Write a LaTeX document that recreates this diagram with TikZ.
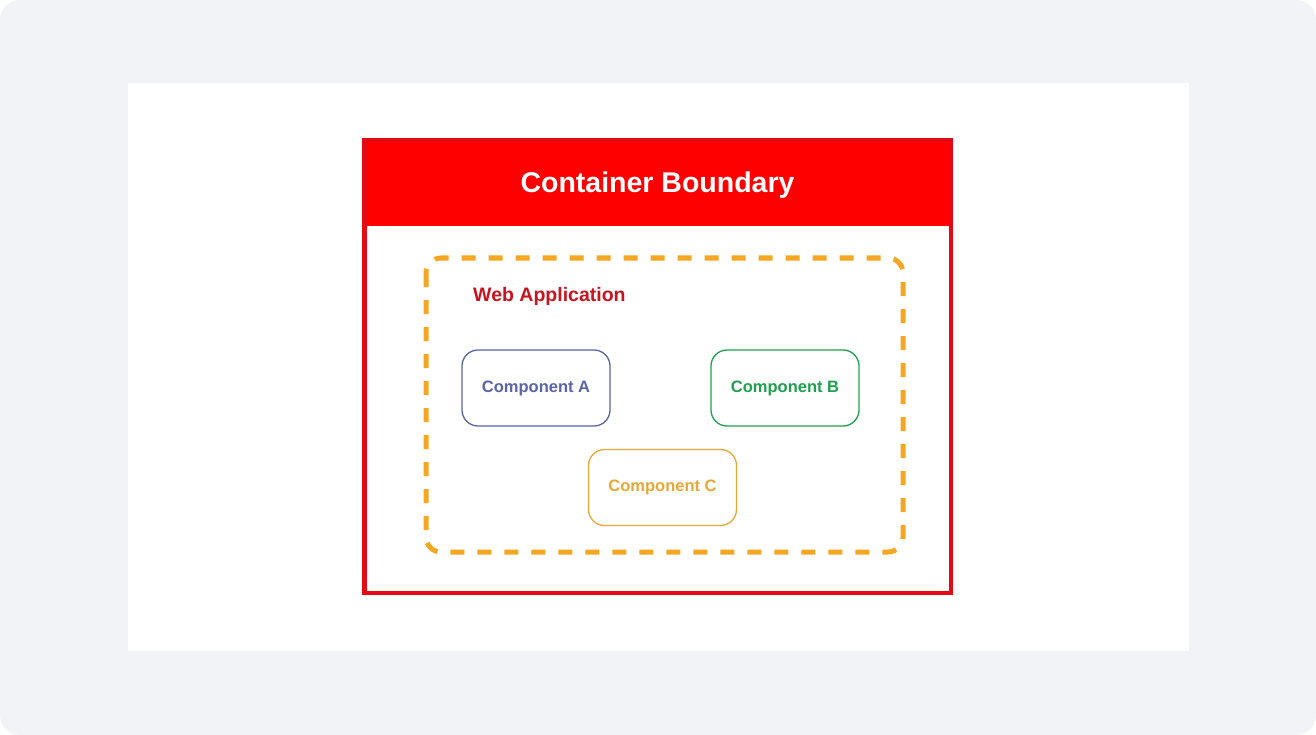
\documentclass[tikz,border=0pt]{standalone}
\usepackage{fontspec}
\setmainfont{Liberation Sans}
\definecolor{bggray}{HTML}{F1F3F7}
\definecolor{cred}{HTML}{FF0000}
\definecolor{cborder}{HTML}{E50914}
\definecolor{webred}{HTML}{C81420}
\definecolor{dashor}{HTML}{F5A623}
\definecolor{compa}{HTML}{5A64A8}
\definecolor{compb}{HTML}{1FA04E}
\definecolor{compc}{HTML}{E8A838}
\tikzset{
  comp/.style={draw, line width=1.3pt, rounded corners=16pt, minimum width=148pt, minimum height=76pt, font=\bfseries\fontsize{16.5}{18}\selectfont, inner sep=0pt},
}
\begin{document}
\begin{tikzpicture}[x=1pt,y=-1pt]
\useasboundingbox (0,0) rectangle (1316,735);
\fill[white] (0,0) rectangle (1316,735);
\fill[bggray, rounded corners=20pt] (0,0) rectangle (1316,735);
\fill[white] (128,83) rectangle (1189,651);
% container
\fill[cred] (362,138) rectangle (953,226);
\draw[cborder, line width=4.5pt] (364.25,140.25) rectangle (950.75,592.75);
\node[text=white, font=\bfseries\fontsize{28.5}{32}\selectfont] (title) at (657.5,185) {Container Boundary};
% web app dashed
\draw[dashor, line width=5pt, dash pattern=on 14pt off 13pt, rounded corners=15pt] (426,258) rectangle (903,552);
\node[anchor=west, text=webred, font=\bfseries\fontsize{19.5}{22}\selectfont, inner sep=0pt] (web) at (473,296) {Web Application};
% components
\node[comp, draw=compa, text=compa] (a) at (536,388) {Component A};
\node[comp, draw=compb, text=compb] (b) at (785,388) {Component B};
\node[comp, draw=compc, text=compc] (c) at (662.5,487.5) {Component C};
\end{tikzpicture}
\end{document}
